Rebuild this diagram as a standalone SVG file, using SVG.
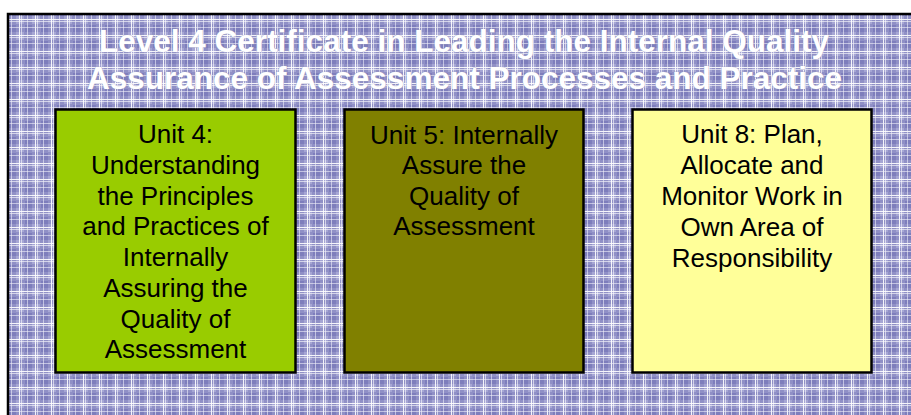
<svg xmlns="http://www.w3.org/2000/svg" width="911" height="415" viewBox="0 0 911 415">
<defs>
<pattern id="plaid" x="0" y="0" width="16" height="16" patternUnits="userSpaceOnUse">
<rect width="16" height="16" fill="#9090C6"/>
<rect x="0" y="0" width="8" height="8" fill="#A6A6D4"/>
<rect x="9" y="9" width="7" height="7" fill="#7E7EBC"/>
<rect x="3" y="0" width="1" height="16" fill="#FFFFFF" opacity="0.9"/>
<rect x="5" y="0" width="1" height="16" fill="#FFFFFF" opacity="0.6"/>
<rect x="0" y="3" width="16" height="1" fill="#FFFFFF" opacity="0.9"/>
<rect x="0" y="5" width="16" height="1" fill="#FFFFFF" opacity="0.6"/>
<rect x="11" y="0" width="1" height="16" fill="#F0F0FA" opacity="0.6"/>
<rect x="0" y="11" width="16" height="1" fill="#F0F0FA" opacity="0.6"/>
</pattern>
</defs>
<style>
.title{font-family:"Liberation Sans",Arial,sans-serif;font-weight:bold;font-size:31.5px;fill:#FFFFFF;stroke:#A0A0C0;stroke-width:0.6;paint-order:stroke;text-anchor:middle}
.box{stroke:#000000;stroke-width:2.5}
.lbl{font-family:"Liberation Sans",Arial,sans-serif;font-size:26px;fill:#000000;text-anchor:middle}
</style>
<rect width="911" height="415" fill="#FFFFFF"/>
<g id="frame">
<rect x="8" y="14" width="920" height="420" fill="url(#plaid)" stroke="#000000" stroke-width="2.5"/>
</g>
<g id="title">
<text class="title" x="464" y="52">Level 4 Certificate in Leading the Internal Quality</text>
<text class="title" x="464.5" y="89">Assurance of Assessment Processes and Practice</text>
</g>
<g id="connectors"></g>
<g id="unit4">
<rect class="box" x="55.5" y="109.5" width="240" height="263" fill="#99CC00"/>
<text class="lbl" x="175.5" y="143">Unit 4:</text>
<text class="lbl" x="175.5" y="174">Understanding</text>
<text class="lbl" x="175.5" y="205">the Principles</text>
<text class="lbl" x="175.5" y="235">and Practices of</text>
<text class="lbl" x="175.5" y="266">Internally</text>
<text class="lbl" x="175.5" y="297">Assuring the</text>
<text class="lbl" x="175.5" y="328">Quality of</text>
<text class="lbl" x="175.5" y="358">Assessment</text>
</g>
<g id="unit5">
<rect class="box" x="344.5" y="109.5" width="239" height="263" fill="#808000"/>
<text class="lbl" x="464" y="144">Unit 5: Internally</text>
<text class="lbl" x="464" y="174">Assure the</text>
<text class="lbl" x="464" y="205">Quality of</text>
<text class="lbl" x="464" y="235">Assessment</text>
</g>
<g id="unit8">
<rect class="box" x="632.5" y="109.5" width="239" height="263" fill="#FFFF99"/>
<text class="lbl" x="752" y="143">Unit 8: Plan,</text>
<text class="lbl" x="752" y="174">Allocate and</text>
<text class="lbl" x="752" y="205">Monitor Work in</text>
<text class="lbl" x="752" y="236">Own Area of</text>
<text class="lbl" x="752" y="267">Responsibility</text>
</g>
</svg>
